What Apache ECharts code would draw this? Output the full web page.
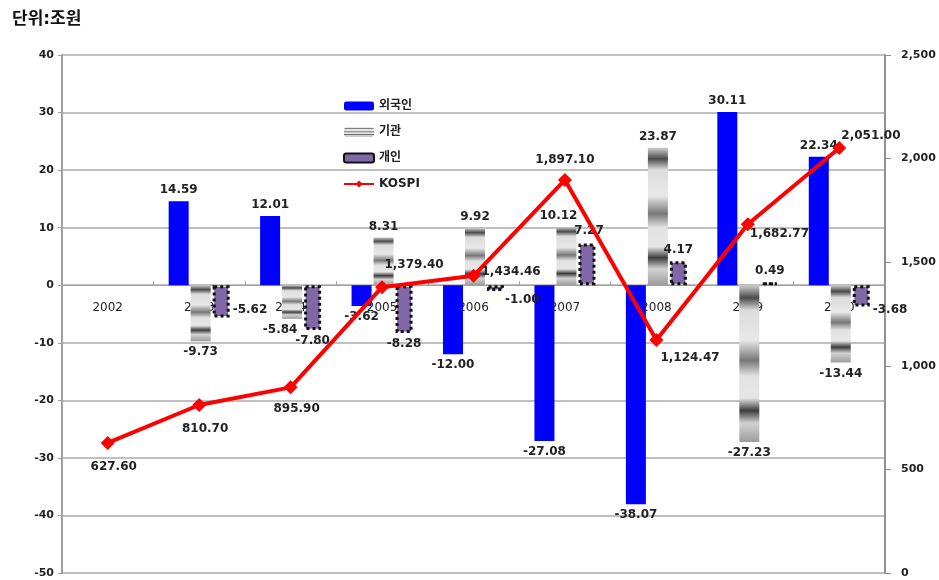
<!DOCTYPE html>
<html><head><meta charset="utf-8">
<script src="https://cdn.jsdelivr.net/npm/echarts@6/dist/echarts.min.js"></script>
<style>html,body{margin:0;padding:0;background:#fff}#c{width:939px;height:580px}</style>
</head><body><div id="c"></div>
<script>
const categories = ['2002','2003','2004','2005','2006','2007','2008','2009','2010'];
const foreign = [null, 14.59, 12.01, -3.62, -12.00, -27.08, -38.07, 30.11, 22.34];
const institution = [null, -9.73, -5.84, 8.31, 9.92, 10.12, 23.87, -27.23, -13.44];
const individual = [null, -5.62, -7.80, -8.28, -1.00, 7.27, 4.17, 0.49, -3.68];
const kospi = [627.60, 810.70, 895.90, 1379.40, 1434.46, 1897.10, 1124.47, 1682.77, 2051.00];
const leftTicks = [-50, 40, 10];
const rightTicks = [0, 2500, 500];

const FONT = 'DejaVu Sans, Noto Sans CJK KR, sans-serif';
const labelBase = {show:true, fontFamily:FONT, fontWeight:'bold', fontSize:12, color:'#222'};
const fmt2 = v => Number(v).toFixed(2);
const fmtK = v => Number(v).toLocaleString('en-US',{minimumFractionDigits:2, maximumFractionDigits:2});

const grayGrad = new echarts.graphic.LinearGradient(0,0,0,1,[
  {offset:0,color:'#cfcfcf'},{offset:0.08,color:'#4a4a4a'},{offset:0.16,color:'#dcdcdc'},
  {offset:0.35,color:'#e8e8e8'},{offset:0.48,color:'#777'},{offset:0.58,color:'#e2e2e2'},
  {offset:0.72,color:'#e6e6e6'},{offset:0.8,color:'#3c3c3c'},{offset:0.88,color:'#d2d2d2'},
  {offset:1,color:'#9c9c9c'}]);

function withLabels(arr, positions, offsets){
  return arr.map((v,i)=>{
    if(v===null) return null;
    const o = {value:v};
    if(positions && positions[i]) o.label = {position:positions[i], offset:(offsets&&offsets[i])||[0,0]};
    return o;
  });
}
const instPos = [null,'bottom','bottom','top','top','top','top','bottom','bottom'];
const instOff = [null,[0,0],[-12,0],[0,0],[0,0],[-8,0],[0,0],[0,0],[0,0]];
const indivPos = [null,'right','bottom','bottom','right','top','top','top','right'];
const indivOff = [null,[-2,8],[0,0],[0,0],[-4,12],[2,-2],[0,0],[0,0],[-2,14]];
const kospiPos = ['bottom','bottom','bottom','top','right','top','right','right','right'];
const kospiOff = [[6,6],[6,6],[6,4],[32,-4],[-4,-4],[0,-2],[-8,18],[-10,10],[-10,-12]];

// pixel distance from grid bottom (-50) to the zero line, via the grid height
const gridTop = 55, gridBottom = 7, H = 580;
const zeroShift = (H - gridTop - gridBottom) * (0 - leftTicks[0]) / (leftTicks[1] - leftTicks[0]);

const chart = echarts.init(document.getElementById('c'));
chart.setOption({
  animation:false,
  textStyle:{fontFamily:FONT},
  title:{text:'단위:조원', left:7, top:6, textStyle:{fontFamily:FONT, fontSize:17, fontWeight:'bold', color:'#111'}},
  legend:{orient:'vertical', left:338, top:95, itemGap:14, itemWidth:30, itemHeight:9,
    textStyle:{fontFamily:FONT, fontSize:12, fontWeight:'bold', color:'#222'},
    data:['외국인','기관','개인','KOSPI']},
  grid:{left:62, right:54, top:gridTop, bottom:gridBottom, outerBoundsMode:'none', containLabel:false},
  xAxis:{type:'category', data:categories, boundaryGap:true, offset:-zeroShift,
    axisLine:{onZero:false, lineStyle:{color:'#a0a0a0', width:1}},
    axisTick:{show:true, length:4, inside:true, lineStyle:{color:'#a0a0a0'}},
    axisLabel:{margin:17, fontFamily:FONT, fontSize:12, color:'#222'}},
  yAxis:[
    {type:'value', min:leftTicks[0], max:leftTicks[1], interval:leftTicks[2],
     axisLine:{show:true, onZero:false, lineStyle:{color:'#a0a0a0', width:2}},
     axisTick:{show:true, length:4, lineStyle:{color:'#a0a0a0'}},
     axisLabel:{fontFamily:FONT, fontWeight:'bold', fontSize:11, color:'#222', margin:8},
     splitLine:{lineStyle:{color:'#c0c0c0', width:2}}},
    {type:'value', min:rightTicks[0], max:rightTicks[1], interval:rightTicks[2], position:'right',
     axisLine:{show:true, onZero:false, lineStyle:{color:'#909090', width:2}},
     axisTick:{show:true, length:6, lineStyle:{color:'#909090'}},
     axisLabel:{fontFamily:FONT, fontWeight:'bold', fontSize:11, color:'#222', margin:16,
       formatter:v=>v.toLocaleString('en-US')},
     splitLine:{show:false}}
  ],
  series:[
    {name:'외국인', type:'bar', yAxisIndex:0, barWidth:20, barGap:'10%',
     itemStyle:{color:'#0000ff'},
     label:Object.assign({}, labelBase, {formatter:p=>fmt2(p.value)}),
     data:foreign.map(v=>v===null?null:{value:v, label:{position: v>=0?'top':'bottom'}})},
    {name:'기관', type:'bar', yAxisIndex:0, barWidth:20,
     itemStyle:{color:grayGrad},
     label:Object.assign({}, labelBase, {formatter:p=>fmt2(p.value)}),
     data:withLabels(institution, instPos, instOff)},
    {name:'개인', type:'bar', yAxisIndex:0, barWidth:17,
     itemStyle:{color:'#8068a8', borderColor:'#111', borderWidth:3, borderType:[3,3]},
     label:Object.assign({}, labelBase, {formatter:p=>fmt2(p.value)}),
     data:withLabels(individual, indivPos, indivOff)},
    {name:'KOSPI', type:'line', yAxisIndex:1, z:5,
     lineStyle:{color:'#ff0000', width:4}, itemStyle:{color:'#ff0000'},
     symbol:'diamond', symbolSize:14,
     label:Object.assign({}, labelBase, {formatter:p=>fmtK(p.value)}),
     data:kospi.map((v,i)=>({value:v, label:{position:kospiPos[i], offset:kospiOff[i]}}))}
  ]
});
</script></body></html>
